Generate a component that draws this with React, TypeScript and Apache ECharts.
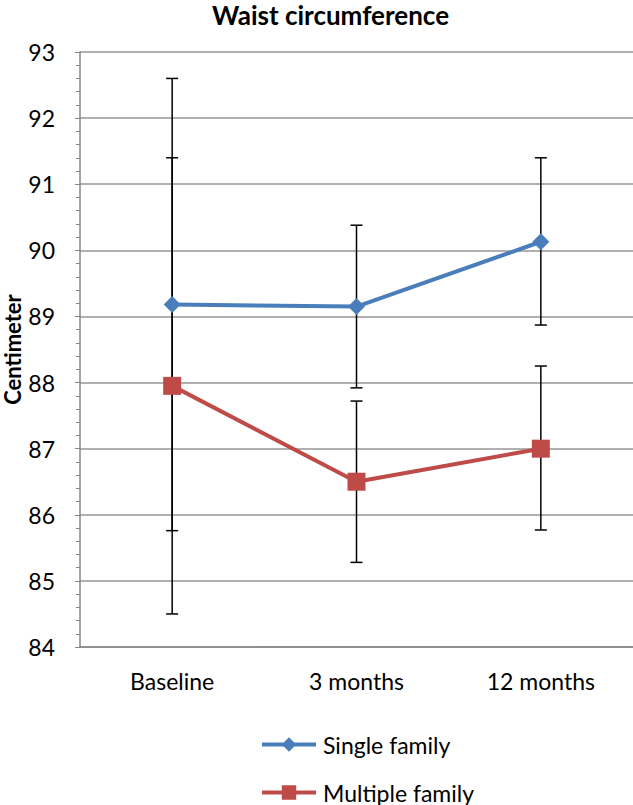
import React, { useEffect, useRef } from "react";
import * as echarts from "echarts";

const categories = ["Baseline", "3 months", "12 months"];
const seriesNames = ["Single family", "Multiple family"];
const singleMean = [89.18, 89.15, 90.13];
const singleLow = [85.76, 87.92, 88.87];
const singleHigh = [92.6, 90.38, 91.4];
const multiMean = [87.95, 86.5, 87.0];
const multiLow = [84.5, 85.28, 85.77];
const multiHigh = [91.4, 87.72, 88.25];

const FONT = "Lato";

function errorData(low: number[], high: number[]) {
  return categories.map((_, i) => [i, low[i], high[i]]);
}

function renderError(params: any, api: any) {
  const x = api.value(0);
  const lo = api.coord([x, api.value(1)]);
  const hi = api.coord([x, api.value(2)]);
  const half = 6;
  const style = { stroke: "#000", lineWidth: 1.5 };
  return {
    type: "group",
    children: [
      { type: "line", shape: { x1: lo[0], y1: lo[1], x2: hi[0], y2: hi[1] }, style },
      { type: "line", shape: { x1: lo[0] - half, y1: lo[1], x2: lo[0] + half, y2: lo[1] }, style },
      { type: "line", shape: { x1: hi[0] - half, y1: hi[1], x2: hi[0] + half, y2: hi[1] }, style },
    ],
  };
}

export default function App() {
  const ref = useRef<HTMLDivElement>(null);
  useEffect(() => {
    if (!ref.current) return;
    const chart = echarts.init(ref.current, undefined, { renderer: "svg" });
    chart.setOption({
      animation: false,
      backgroundColor: "#fff",
      title: {
        text: "Waist circumference",
        left: 212,
        top: 2,
        padding: 0,
        textStyle: { fontFamily: FONT, fontSize: 26, fontWeight: "bold", color: "#000" },
      },
      legend: {
        orient: "vertical",
        left: 260,
        top: 733,
        padding: 0,
        itemWidth: 54,
        itemHeight: 18,
        itemGap: 25,
        data: seriesNames,
        lineStyle: { width: 4 },
        textStyle: { fontFamily: FONT, fontSize: 23, color: "#000", padding: [0, 0, 0, 2] },
      },
      grid: { left: 80, right: 0, top: 52, bottom: 158, outerBoundsMode: "none" },
      xAxis: {
        type: "category",
        data: categories,
        boundaryGap: true,
        axisLine: { lineStyle: { color: "#868686", width: 1.5 } },
        axisTick: { show: false },
        axisLabel: { fontFamily: FONT, fontSize: 23, color: "#000", margin: 22 },
      },
      yAxis: {
        type: "value",
        min: 84,
        max: 93,
        interval: 1,
        name: "Centimeter",
        nameLocation: "middle",
        nameRotate: 90,
        nameGap: 57,
        nameMoveOverlap: false,
        nameTextStyle: { fontFamily: FONT, fontSize: 22, fontWeight: "bold", color: "#000", lineHeight: 22 },
        axisLine: { show: true, lineStyle: { color: "#868686", width: 1.5 } },
        axisTick: { show: true, length: 5, lineStyle: { color: "#868686" } },
        minorTick: { show: true, splitNumber: 5, length: 4, lineStyle: { color: "#868686" } },
        splitLine: { show: true, lineStyle: { color: "#969696", width: 1.5 } },
        axisLabel: { fontFamily: FONT, fontSize: 23, color: "#000", margin: 25 },
      },
      series: [
        {
          type: "custom",
          name: "errSingle",
          renderItem: renderError,
          data: errorData(singleLow, singleHigh),
          z: 1,
          silent: true,
        },
        {
          type: "custom",
          name: "errMulti",
          renderItem: renderError,
          data: errorData(multiLow, multiHigh),
          z: 1,
          silent: true,
        },
        {
          type: "line",
          name: seriesNames[0],
          data: singleMean,
          symbol: "diamond",
          symbolSize: 17,
          lineStyle: { color: "#4A7EBB", width: 4 },
          itemStyle: { color: "#4A7EBB" },
          z: 3,
        },
        {
          type: "line",
          name: seriesNames[1],
          data: multiMean,
          symbol: "rect",
          symbolSize: 18,
          lineStyle: { color: "#BE4B48", width: 4 },
          itemStyle: { color: "#BE4B48" },
          z: 3,
        },
      ],
    });
    return () => chart.dispose();
  }, []);
  return (
    <div
      ref={ref}
      style={{ position: "fixed", left: 0, top: 0, width: 633, height: 805 }}
    />
  );
}
